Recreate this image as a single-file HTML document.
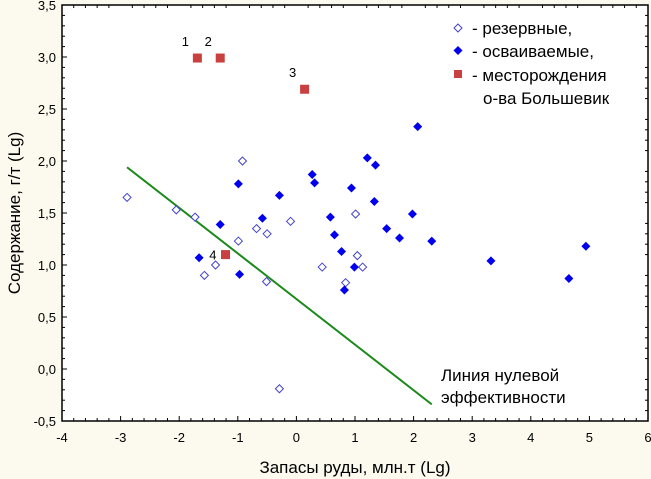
<!DOCTYPE html>
<html><head><meta charset="utf-8"><style>
body{margin:0;background:#fcfaee;}
svg{display:block;font-family:"Liberation Sans",sans-serif;}
</style></head><body>
<svg id="chart" width="651" height="479" viewBox="0 0 651 479" xmlns="http://www.w3.org/2000/svg">
<rect x="0" y="0" width="651" height="479" fill="#fcfaee"/>
<rect x="62" y="5" width="586" height="416" fill="#ffffff" stroke="#000" stroke-width="1.5"/>
<g id="ticks"></g>
<g id="marks"></g>
<text x="355" y="473" font-size="17" text-anchor="middle">Запасы руды, млн.т (Lg)</text>
<text transform="translate(20,213) rotate(-90)" font-size="17" text-anchor="middle">Содержание, г/т (Lg)</text>
<g font-size="17">
<path d="M458,24 l4,4 l-4,4 l-4,-4z" fill="#fff" stroke="#4444cc"/>
<text x="472" y="34">- резервные,</text>
<path d="M458,46 l4.5,4.5 l-4.5,4.5 l-4.5,-4.5z" fill="#0000ee"/>
<text x="472" y="57">- осваиваемые,</text>
<rect x="454" y="70" width="8" height="8" fill="#c84040"/>
<text x="472" y="81">- месторождения</text>
<text x="483" y="104">о-ва Большевик</text>
</g>
<text x="441" y="381" font-size="17">Линия нулевой</text>
<text x="441" y="403" font-size="17">эффективности</text>
</svg>
<script>
const xTicks=[-4,-3,-2,-1,0,1,2,3,4,5,6];
const yTicks=[-0.5,0,0.5,1,1.5,2,2.5,3,3.5];
const yTickLabels=["-0,5","0,0","0,5","1,0","1,5","2,0","2,5","3,0","3,5"];
const reserveX=[-2.89,-2.05,-1.73,-0.92,-0.99,-0.68,-0.50,-0.10,1.01,-1.38,-1.57,-0.51,0.44,1.04,1.13,0.84,-0.29];
const reserveY=[1.65,1.53,1.46,2.0,1.23,1.35,1.30,1.42,1.49,1.0,0.90,0.84,0.98,1.09,0.98,0.83,-0.19];
const devX=[-0.99,-0.29,-0.58,-1.30,-1.66,-0.97,0.27,0.31,0.58,0.65,0.77,0.99,0.82,0.94,1.21,1.35,1.33,1.54,1.76,2.07,1.98,2.31,3.32,4.65,4.94];
const devY=[1.78,1.67,1.45,1.39,1.07,0.91,1.87,1.79,1.46,1.29,1.13,0.98,0.76,1.74,2.03,1.96,1.61,1.35,1.26,2.33,1.49,1.23,1.04,0.87,1.18];
const bolX=[-1.69,-1.30,0.14,-1.21];
const bolY=[2.99,2.99,2.69,1.10];
const bolLabels=["1","2","3","4"];
const lineX=[-2.89,2.31];
const lineY=[1.94,-0.34];
const NS="http://www.w3.org/2000/svg";
const sx=v=>62+(v+4)*58.6;
const sy=v=>421-(v+0.5)*104;
function mk(tag,attrs,parent){const e=document.createElementNS(NS,tag);for(const k in attrs)e.setAttribute(k,attrs[k]);parent.appendChild(e);return e;}
const T=document.getElementById('ticks'),M=document.getElementById('marks');
xTicks.forEach((v,i)=>{
 const x=sx(v);
 const l=mk('line',{x1:x,x2:x,y1:421,y2:416,stroke:'#000'},T);
 
 
 const t=mk('text',{x:x,y:442,'font-size':13,'text-anchor':'middle'},T);t.textContent=String(v);
 
 
 if(i<xTicks.length-1)for(let k=1;k<5;k++){const xm=sx(v+k*0.2);const m=mk('line',{x1:xm,x2:xm,y1:421,y2:418,stroke:'#000'},T);
 
 
 const m2=mk('line',{x1:xm,x2:xm,y1:5,y2:8,stroke:'#000'},T);
 
 }
});
yTicks.forEach((v,i)=>{
 const y=sy(v);
 const l=mk('line',{x1:62,x2:67,y1:y,y2:y,stroke:'#000'},T);
 
 
 const t=mk('text',{x:56,y:y+5,'font-size':13,'text-anchor':'end'},T);t.textContent=yTickLabels[i];
 
 
 if(i<yTicks.length-1)for(let k=1;k<5;k++){const ym=sy(v+k*0.1);const m=mk('line',{x1:62,x2:65,y1:ym,y2:ym,stroke:'#000'},T);
 
 
 const m2=mk('line',{x1:648,x2:645,y1:ym,y2:ym,stroke:'#000'},T);
 
 }
});
const ln=mk('line',{x1:sx(lineX[0]),y1:sy(lineY[0]),x2:sx(lineX[1]),y2:sy(lineY[1]),stroke:'#1a8a1a','stroke-width':2},M);


reserveX.forEach((v,i)=>{const x=sx(v),y=sy(reserveY[i]);
 const p=mk('path',{d:`M${x},${y-4} l4,4 l-4,4 l-4,-4z`,fill:'#fff',stroke:'#4444cc','stroke-width':1},M);
 
 });
devX.forEach((v,i)=>{const x=sx(v),y=sy(devY[i]);
 const p=mk('path',{d:`M${x},${y-4.5} l4.5,4.5 l-4.5,4.5 l-4.5,-4.5z`,fill:'#0000ee'},M);
 
 });
bolX.forEach((v,i)=>{const x=sx(v),y=sy(bolY[i]);
 const r=mk('rect',{x:x-4.5,y:y-4.5,width:9,height:9,fill:'#c84040'},M);
 
 
 const t=mk('text',i===3?{x:x-9,y:y+5,'font-size':13,'text-anchor':'end'}:{x:x-12,y:y-12,'font-size':13,'text-anchor':'middle'},M);
 t.textContent=bolLabels[i];
 
 });
</script>
</body></html>
